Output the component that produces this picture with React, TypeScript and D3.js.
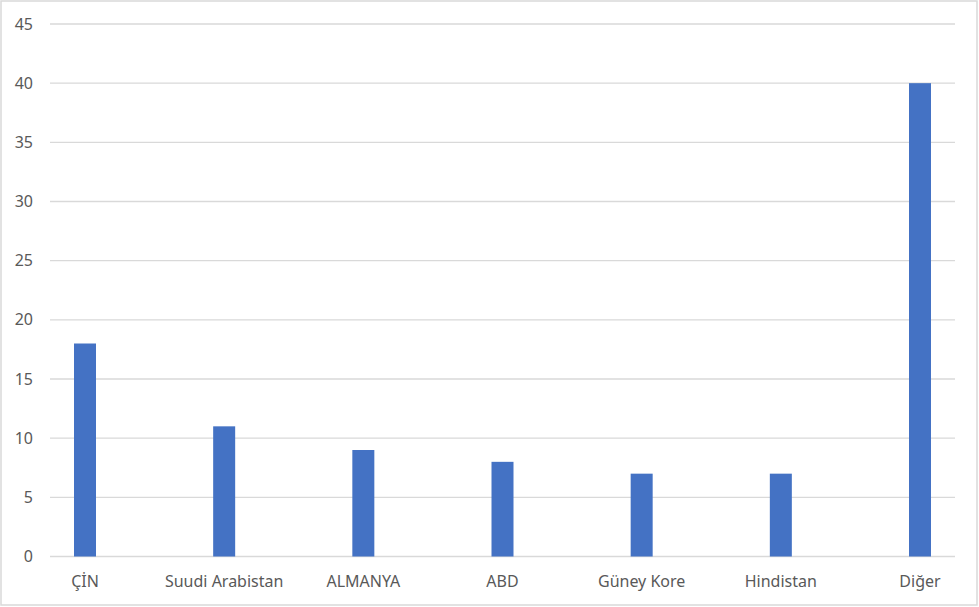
import React, { useEffect, useRef } from "react";
import * as d3 from "d3";

const categories = ["ÇİN", "Suudi Arabistan", "ALMANYA", "ABD", "Güney Kore", "Hindistan", "Diğer"];
const values = [18, 11, 9, 8, 7, 7, 40];
const yTicks = [0, 5, 10, 15, 20, 25, 30, 35, 40, 45];

const W = 979;
const H = 607;

const App = () => {
  const ref = useRef<SVGSVGElement>(null);

  useEffect(() => {
    const svg = d3.select(ref.current);
    svg.selectAll("*").remove();

    svg
      .append("rect")
      .attr("x", 1)
      .attr("y", 1)
      .attr("width", W - 3)
      .attr("height", H - 3)
      .attr("fill", "white")
      .attr("stroke", "#d9d9d9")
      .attr("stroke-width", 1.5);

    const y = d3.scaleLinear().domain([0, 45]).range([556.5, 24]);
    const x = d3.scalePoint<string>().domain(categories).range([85, 920]);
    const barW = 22;

    // gridlines
    svg
      .append("g")
      .selectAll("line")
      .data(yTicks)
      .enter()
      .append("line")
      .attr("x1", 50)
      .attr("x2", 955)
      .attr("y1", (d) => y(d))
      .attr("y2", (d) => y(d))
      .attr("stroke", "#d9d9d9")
      .attr("stroke-width", 1.3);

    // y labels
    svg
      .append("g")
      .attr("font-family", "'Noto Sans', sans-serif")
      .attr("font-size", 16)
      .attr("fill", "#595959")
      .attr("text-anchor", "end")
      .selectAll("text")
      .data(yTicks)
      .enter()
      .append("text")
      .attr("x", 33)
      .attr("y", (d) => y(d))
      .attr("dy", "0.35em")
      .text((d) => d);

    // bars
    svg
      .append("g")
      .selectAll("rect")
      .data(values)
      .enter()
      .append("rect")
      .attr("x", (d, i) => (x(categories[i]) as number) - barW / 2)
      .attr("width", barW)
      .attr("y", (d) => y(d))
      .attr("height", (d) => y(0) - y(d))
      .attr("fill", "#4472c4");

    // x labels
    svg
      .append("g")
      .attr("font-family", "'Noto Sans', sans-serif")
      .attr("font-size", 16)
      .attr("fill", "#595959")
      .attr("text-anchor", "middle")
      .selectAll("text")
      .data(categories)
      .enter()
      .append("text")
      .attr("x", (d) => x(d) as number)
      .attr("y", 587)
      .text((d) => d);
  }, []);

  return (
    <svg
      ref={ref}
      width={W}
      height={H}
      style={{ position: "absolute", left: 0, top: 0 }}
    />
  );
};

export default App;
